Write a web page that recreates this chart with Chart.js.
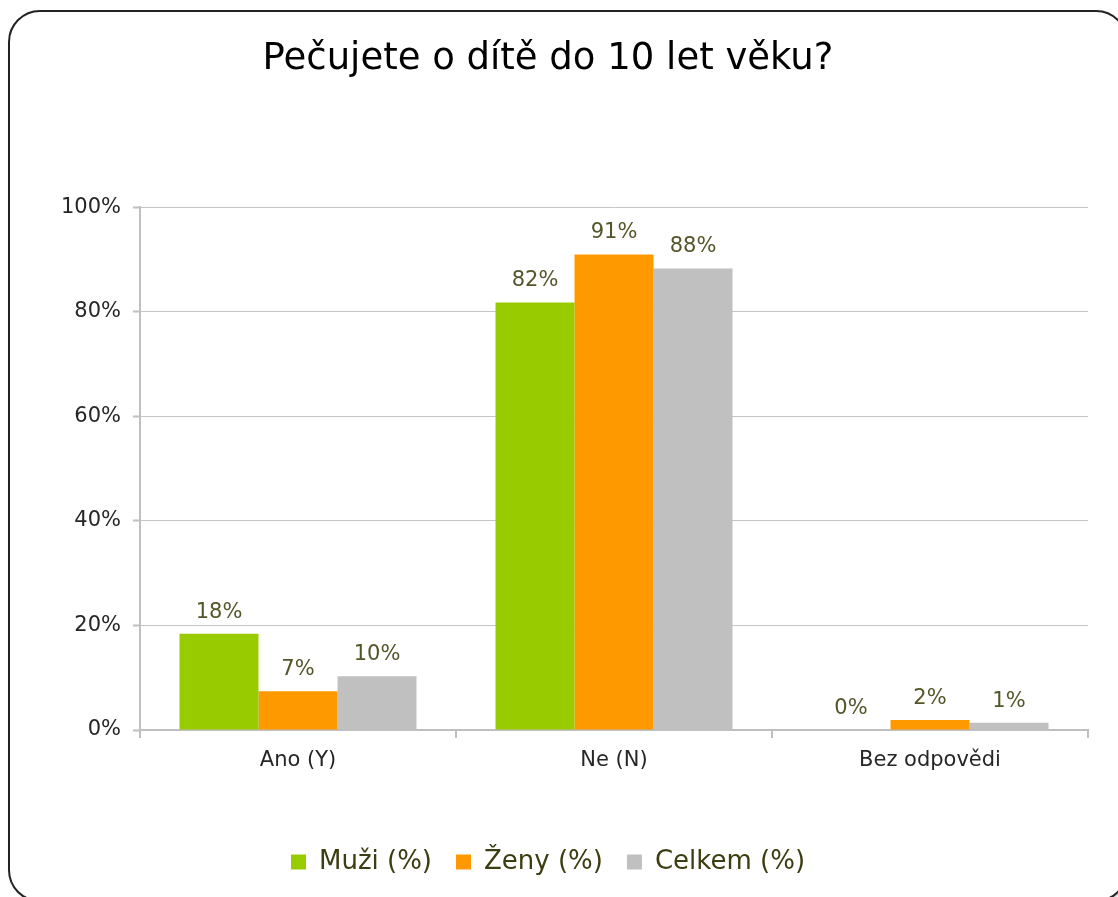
<!DOCTYPE html>
<html>
<head>
<meta charset="utf-8">
<script src="https://cdn.jsdelivr.net/npm/chart.js@4"></script>
<style>
  html, body { margin: 0; padding: 0; background: #fff; overflow: hidden; width: 1118px; height: 897px; }
  #ramecek {
    position: absolute; left: 8px; top: 10px; width: 1120px; height: 892px;
    border: 2px solid #222; border-radius: 32px; box-sizing: border-box;
    box-shadow: 1px 1px 2px rgba(0,0,0,0.2);
  }
  #obal { position: absolute; left: 8px; top: 10px; width: 1120px; height: 887px; }
</style>
</head>
<body>
<div id="ramecek"></div>
<div id="obal"><canvas id="graf"></canvas></div>
<script>
// Data grafu
const kategorie = ['Ano (Y)', 'Ne (N)', 'Bez odpovědi'];
const muzi = [18.4, 81.8, 0];
const zeny = [7.4, 91.0, 1.9];
const celkem = [10.3, 88.3, 1.4];
const popisky = ['Muži (%)', 'Ženy (%)', 'Celkem (%)'];
const barvy = ['#99cc00', '#ff9900', '#c0c0c0'];
const yTicks = [0, 20, 40, 60, 80, 100];

const pismo = 'DejaVu Sans, Verdana, sans-serif';

// Popisky hodnot nad sloupci
const hodnotyPlugin = {
  id: 'hodnoty',
  afterDatasetsDraw(chart) {
    const ctx = chart.ctx;
    ctx.save();
    ctx.font = '21px ' + pismo;
    ctx.fillStyle = '#55552a';
    ctx.textAlign = 'center';
    ctx.textBaseline = 'bottom';
    chart.data.datasets.forEach((ds, i) => {
      chart.getDatasetMeta(i).data.forEach((bar, j) => {
        ctx.fillText(Math.round(ds.data[j]) + '%', bar.x, bar.y - 11);
      });
    });
    ctx.restore();
  }
};

new Chart(document.getElementById('graf'), {
  type: 'bar',
  data: {
    labels: kategorie,
    datasets: [muzi, zeny, celkem].map((d, i) => ({
      label: popisky[i],
      data: d,
      backgroundColor: barvy[i],
      borderWidth: 0,
      barPercentage: 1,
      categoryPercentage: 0.75
    }))
  },
  options: {
    responsive: true,
    maintainAspectRatio: false,
    animation: false,
    layout: { padding: { left: 0, right: 40, top: 0, bottom: 12 } },
    plugins: {
      title: {
        display: true,
        text: 'Pečujete o dítě do 10 let věku?',
        color: '#000',
        font: { family: pismo, size: 37, weight: 'normal' },
        padding: { top: 27, bottom: 126 }
      },
      legend: {
        position: 'bottom',
        labels: {
          color: '#3d3d12',
          font: { family: pismo, size: 26 },
          boxWidth: 15,
          boxHeight: 15,
          padding: 24
        }
      },
      tooltip: { enabled: false }
    },
    scales: {
      x: {
        afterFit: (s) => { s.height = 95; },
        grid: { display: true, drawOnChartArea: false, drawTicks: true, tickLength: 8, color: '#bfbfbf', lineWidth: 2 },
        border: { color: '#bfbfbf', width: 2 },
        ticks: { color: '#262626', font: { family: pismo, size: 21 }, padding: 10 }
      },
      y: {
        min: 0,
        max: 100,
        afterFit: (s) => { s.width = 132; },
        afterBuildTicks: (s) => { s.ticks = yTicks.map(v => ({ value: v })); },
        grid: {
          color: '#c4c4c4', lineWidth: 1, borderDash: [2, 2],
          tickLength: 7, tickColor: '#bfbfbf', tickWidth: 2, tickBorderDash: []
        },
        border: { color: '#bfbfbf', width: 2 },
        ticks: {
          color: '#262626', font: { family: pismo, size: 21 }, padding: 12,
          callback: (v) => v + '%'
        }
      }
    }
  },
  plugins: [hodnotyPlugin]
});
</script>
</body>
</html>
